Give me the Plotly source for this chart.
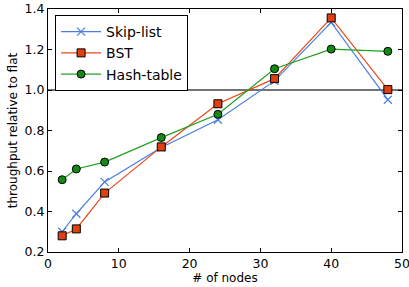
import plotly.graph_objects as go

nodes = [2, 4, 8, 16, 24, 32, 40, 48]
skip_list = [0.30, 0.389, 0.546, 0.716, 0.853, 1.045, 1.334, 0.952]
bst = [0.28, 0.314, 0.491, 0.719, 0.932, 1.056, 1.356, 1.002]
hash_table = [0.557, 0.61, 0.644, 0.765, 0.88, 1.105, 1.202, 1.191]

x_ticks = [0, 10, 20, 30, 40, 50]
y_ticks = [0.2, 0.4, 0.6, 0.8, 1.0, 1.2, 1.4]

fig = go.Figure()
fig.add_trace(go.Scatter(
    x=nodes, y=skip_list, name="Skip-list", mode="lines+markers",
    line=dict(color="#4a7fe0", width=1.2),
    marker=dict(symbol="x-thin", size=8, line=dict(color="#4a7fe0", width=1.2)),
))
fig.add_trace(go.Scatter(
    x=nodes, y=bst, name="BST", mode="lines+markers",
    line=dict(color="#e8481c", width=1.2),
    marker=dict(symbol="square", size=8, color="#e0400f", line=dict(color="black", width=1)),
))
fig.add_trace(go.Scatter(
    x=nodes, y=hash_table, name="Hash-table", mode="lines+markers",
    line=dict(color="#22a022", width=1.2),
    marker=dict(symbol="circle", size=8, color="#138a13", line=dict(color="black", width=1)),
))

fig.add_shape(type="line", xref="paper", x0=0, x1=1, yref="y", y0=1.0, y1=1.0,
              line=dict(color="#444444", width=1.5), layer="below")

axis_common = dict(
    showgrid=False, zeroline=False, showline=True, linecolor="black", linewidth=1,
    mirror="allticks", ticks="inside", ticklen=4, tickcolor="black", tickwidth=1,
    tickfont=dict(family="DejaVu Sans", size=12.5, color="black"),
    automargin=False, ticklabeloverflow="allow",
)

fig.update_layout(
    width=409, height=287,
    margin=dict(l=48, r=7, t=9, b=35),
    paper_bgcolor="white", plot_bgcolor="white",
    showlegend=True,
    legend=dict(
        x=0.02, y=0.975, xanchor="left", yanchor="top",
        bgcolor="white", bordercolor="black", borderwidth=1,
        font=dict(family="DejaVu Sans", size=14, color="black"),
        tracegroupgap=0, itemwidth=40,
    ),
    xaxis=dict(range=[0, 50], tickvals=x_ticks, ticktext=[str(v) for v in x_ticks],
               title=dict(text="# of nodes", font=dict(family="DejaVu Sans", size=12, color="black"), standoff=0),
               **axis_common),
    yaxis=dict(range=[0.2, 1.4], tickvals=y_ticks, ticktext=[f"{v:.1f}" for v in y_ticks],
               title=dict(text="throughput relative to flat", font=dict(family="DejaVu Sans", size=12, color="black"), standoff=4),
               **axis_common),
)

fig.write_html("out.html", config={"displayModeBar": False},
               post_script="document.body.style.margin='0';document.body.style.overflow='hidden';")
